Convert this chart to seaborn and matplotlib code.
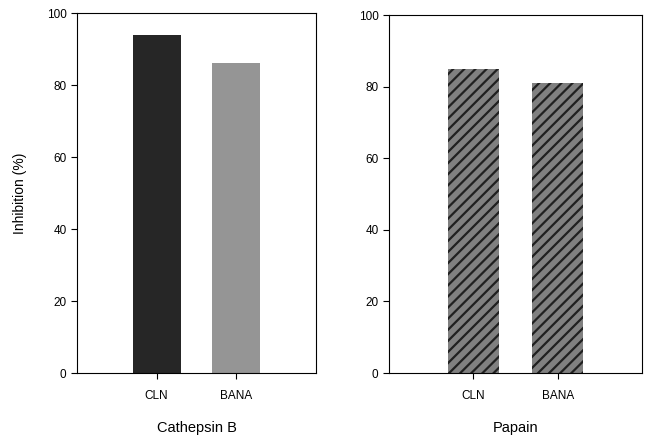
import matplotlib
matplotlib.use("Agg")
import matplotlib.pyplot as plt
import seaborn as sns
import pandas as pd

categories = ["CLN", "BANA"]
cathepsin_b = [93.8, 86.2]
papain = [85.0, 81.0]
panel_titles = ["Cathepsin B", "Papain"]
y_ticks = [0, 20, 40, 60, 80, 100]

sns.set_style("white")
plt.rcParams["font.family"] = ["Liberation Sans", "DejaVu Sans"]
plt.rcParams["text.color"] = "black"
plt.rcParams["axes.labelcolor"] = "black"
plt.rcParams["xtick.color"] = "black"
plt.rcParams["ytick.color"] = "black"
plt.rcParams["hatch.linewidth"] = 1.6

fig = plt.figure(figsize=(6.48, 4.38), dpi=100)
ax1 = fig.add_axes([77/648, 1 - 373/438, 239/648, 360/438])
ax2 = fig.add_axes([389/648, 1 - 373/438, 253/648, 358/438])

panels = [
    (ax1, cathepsin_b, ["#262626", "#959595"], [None, None]),
    (ax2, papain, ["#808080", "#808080"], ["///", "///"]),
]

for i, (ax, vals, colors, hatches) in enumerate(panels):
    df = pd.DataFrame({"cat": categories, "val": vals})
    sns.barplot(data=df, x="cat", y="val", hue="cat", palette=colors,
                legend=False, width=0.6, ax=ax, saturation=1, edgecolor="none")
    for p, h in zip(ax.patches, hatches):
        if h:
            p.set_hatch(h)
            p.set_edgecolor("#202020")
            p.set_linewidth(0)
    ax.set_xlim(-1, 2)
    ax.set_ylim(0, 100)
    ax.set_yticks(y_ticks)
    ax.tick_params(axis="both", direction="out", length=4, width=0.8,
                   labelsize=8.5, color="black", labelcolor="black",
                   left=True, bottom=True)
    ax.tick_params(axis="x", pad=8)
    ax.set_xlabel(panel_titles[i], fontsize=10.5, labelpad=14, color="black")
    ax.set_ylabel("")
    for s in ax.spines.values():
        s.set_visible(True)
        s.set_color("black")
        s.set_linewidth(0.8)

ax1.set_ylabel("Inhibition (%)", fontsize=10, labelpad=14, color="black")

fig.savefig("out.png", dpi=100)
